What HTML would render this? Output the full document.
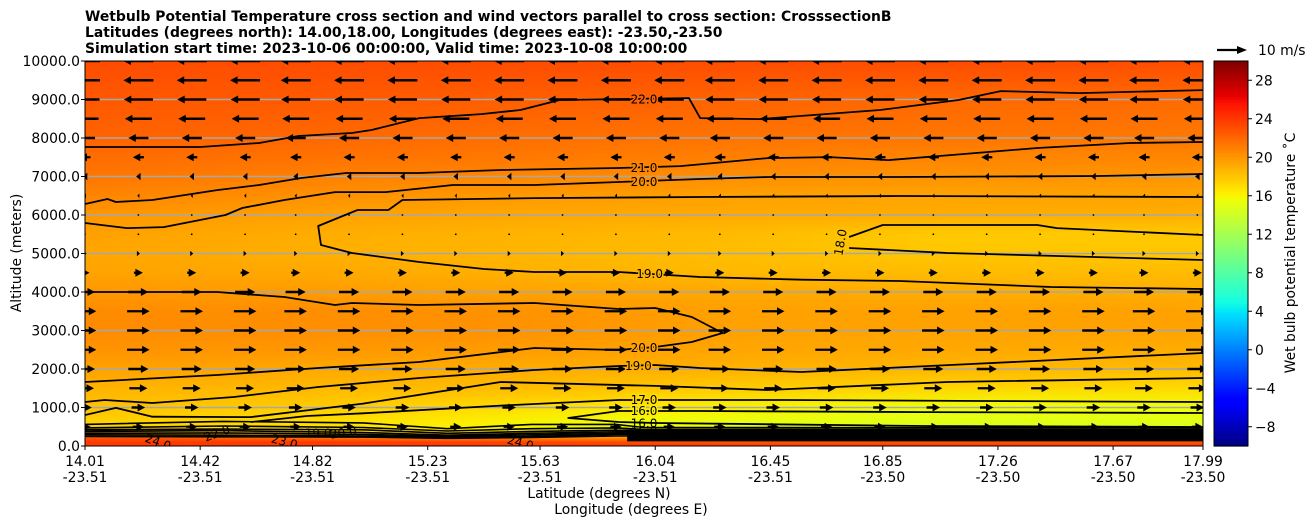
<!DOCTYPE html>
<html><head><meta charset="utf-8">
<style>
html,body{margin:0;padding:0;background:#fff;}
body{width:1311px;height:526px;overflow:hidden;font-family:"DejaVu Sans","Liberation Sans",sans-serif;}
svg text{font-family:"DejaVu Sans","Liberation Sans",sans-serif;}
</style></head>
<body>
<svg id="chart" width="1311" height="526" xmlns="http://www.w3.org/2000/svg">
<defs id="defs"><clipPath id="plotclip"><rect x="85" y="61" width="1118" height="385"/></clipPath></defs>
<g font-size="13.9" font-weight="bold" fill="#000">
<text x="85" y="21">Wetbulb Potential Temperature cross section and wind vectors parallel to cross section: CrosssectionB</text>
<text x="85" y="37">Latitudes (degrees north): 14.00,18.00, Longitudes (degrees east): -23.50,-23.50</text>
<text x="85" y="53">Simulation start time: 2023-10-06 00:00:00, Valid time: 2023-10-08 10:00:00</text>
</g>
<g id="field" clip-path="url(#plotclip)"></g>
<g id="grid"></g>
<g id="contours" clip-path="url(#plotclip)"></g>
<g id="arrows" clip-path="url(#plotclip)"></g>
<g id="clabels" clip-path="url(#plotclip)"></g>
<rect x="85" y="61" width="1118" height="385" fill="none" stroke="#000" stroke-width="1"/>
<g id="yaxis" font-size="13.9"></g>
<g id="xaxis" font-size="13.9"></g>
<text font-size="13.9" transform="translate(21,253) rotate(-90)" text-anchor="middle">Altitude (meters)</text>
<text font-size="13.9" x="599" y="498" text-anchor="middle">Latitude (degrees N)</text>
<text font-size="13.9" x="631" y="514" text-anchor="middle">Longitude (degrees E)</text>
<g id="cbar"></g>
<g>
<line x1="1217" y1="50" x2="1238" y2="50" stroke="#000" stroke-width="2.2"/>
<polygon points="1247,50 1237,46 1237,54" fill="#000"/>
<text x="1258" y="55" font-size="13.9">10 m/s</text>
</g>
<text font-size="13.9" transform="translate(1295,253) rotate(-90)" text-anchor="middle">Wet bulb potential temperature ˚C</text>
</svg>
<script>
// ---- data ----
const gridLats = [14.01, 14.8, 15.6, 16.3, 17.0, 17.99];
const gridAlts = [0,100,200,300,400,600,1000,1500,2000,2500,3000,3500,4000,4500,5000,5500,6000,6500,7000,7500,8000,9000,10000];
const gridTemps = [
 [24,24,24,24,24,24],
 [24,24,23.5,23,23,23],
 [23,22,21,20,20,20],
 [20,19,18,17,16.5,16.5],
 [17.5,17,16,15.5,15,15],
 [17.5,17,16,15.3,14.8,14.8],
 [18.2,17.8,17,16.2,15.6,15.6],
 [18.8,18.6,18.4,17.8,17.4,17.2],
 [19.6,19.3,19.1,18.9,18.7,18.5],
 [20.2,20.0,19.8,19.4,19.3,19.1],
 [20.5,20.4,20.2,19.6,19.5,19.5],
 [20.5,20.4,20.2,19.6,19.6,19.6],
 [20.0,19.8,19.5,19.3,19.1,19.0],
 [19.5,19.3,18.9,18.6,18.5,18.5],
 [19.4,19.0,18.7,18.4,18.0,18.0],
 [19.6,19.1,18.8,18.5,17.9,17.9],
 [20.0,19.6,19.3,19.2,19.1,19.0],
 [20.8,20.3,19.9,19.6,19.5,19.5],
 [21.4,21.0,20.7,20.4,20.2,20.1],
 [21.8,21.6,21.3,21.0,20.8,20.7],
 [22.2,22.0,21.7,21.5,21.4,21.3],
 [22.7,22.6,22.4,22.2,22.0,21.9],
 [23.2,23.2,23.2,23.2,23.2,23.2]
];
const windRowAlts = [10000,9500,9000,8500,8000,7500,7000,6500,6000,5500,5000,4500,4000,3500,3000,2500,2000,1500,1000,500];
const windRowU = [-10,-10,-9.7,-9,-6.7,-3.7,-1.5,-0.7,-0.3,0.3,1,3,6.7,7.5,7.5,7.5,6.7,6,4.5,3.7];
const windColLats = [14.01,14.20,14.39,14.58,14.76,14.95,15.14,15.33,15.52,15.71,15.90,16.09,16.27,16.46,16.65,16.84,17.03,17.22,17.41,17.60,17.78,17.97];
const contour22 = [[14.01,7765],[14.42,7765],[14.63,7869],[14.77,8051],[14.96,8129],[15.03,8207],[15.20,8518],[15.42,8622],[15.56,8726],[15.70,8986],[16.16,9037],[16.20,8518],[16.41,8492],[16.84,8726],[17.12,8986],[17.27,9219],[17.55,9167],[17.99,9245]];
const contour21 = [[14.01,6285],[14.09,6415],[14.12,6337],[14.25,6389],[14.48,6648],[14.63,6778],[14.78,6960],[14.94,7090],[15.20,7090],[15.49,7168],[15.91,7220],[16.13,7271],[16.44,7479],[16.66,7505],[16.87,7427],[17.09,7557],[17.40,7739],[17.73,7869],[17.99,7895]];
const contour20a = [[14.01,5791],[14.16,5661],[14.29,5687],[14.51,5999],[14.57,6181],[14.72,6389],[14.90,6596],[15.08,6596],[15.32,6778],[15.61,6778],[15.91,6856],[16.20,6934],[16.44,6986],[16.91,6986],[17.62,7012],[17.99,7064]];
const contour19a = [[17.99,6467],[16.91,6493],[16.20,6467],[15.61,6440],[15.14,6389],[15.09,6129],[14.98,6129],[14.84,5713],[14.85,5220],[14.96,5012],[15.20,4778],[15.43,4597],[15.61,4519],[15.91,4519],[16.20,4389],[16.56,4320],[16.91,4285],[17.45,4129],[17.99,4077]];
const contour18a = [[17.99,5480],[17.47,5661],[17.40,5739],[16.85,5739],[16.73,5428]];
const contour18b = [[16.73,5142],[17.08,5012],[17.99,4830]];
const contour20b = [[14.01,3999],[14.48,3999],[14.72,3869],[14.90,3662],[14.96,3714],[15.20,3662],[15.61,3714],[15.91,3558],[16.04,3584],[16.17,3350],[16.28,2935],[16.17,2701],[16.04,2571],[15.91,2493],[15.61,2545],[15.20,2181],[14.84,2026],[14.48,1844],[14.01,1662]];
const contour19b = [[14.01,1143],[14.08,1195],[14.25,1117],[14.54,1273],[14.84,1532],[15.20,1766],[15.61,1974],[15.91,2078],[16.04,2104],[16.20,2026],[16.56,1922],[17.09,2104],[17.99,2415]];
const contour185 = [[14.01,805],[14.12,990],[14.25,760],[14.60,750],[15.00,1100],[15.49,1662],[16.04,1560],[16.44,1454],[17.08,1662],[17.99,1766]];
const contour17 = [[14.60,620],[14.80,780],[15.00,850],[15.49,1050],[15.91,1195],[16.50,1195],[17.2,1170],[17.99,1143]];
const contour16a = [[17.99,857],[17.0,880],[16.20,909],[15.91,909],[15.73,727],[15.91,623],[16.04,597],[17.0,520],[17.99,493]];
const bottomLats = [14.01,14.5,15.0,15.3,15.6,15.9,16.0,17.99];
const bottomLines = [
 [560,640,600,450,560,560,480,470],
 [470,520,480,390,450,470,430,430],
 [420,440,420,330,380,410,400,400],
 [380,400,350,280,330,370,370,370],
 [330,340,300,250,290,330,340,340],
 [290,280,260,220,250,300,300,300],
 [250,240,230,200,220,260,260,260]
];
const contourLabels = [["22.0",16.0,9000,0],["21.0",16.0,7220,0],["20.0",16.0,6856,0],["19.0",16.02,4470,0],["18.0",16.70,5290,-80],
 ["20.0",16.0,2550,0],["19.0",15.98,2078,0],["17.0",16.0,1195,0],["16.0",16.0,909,0],["16.0",16.0,590,0],["16.0",16.0,390,0],["23.0",16.0,230,0],
 ["24.0",14.27,100,20],["22.0",14.48,330,-20],["23.0",14.72,110,15],["19.0",14.84,330,0],["20.0",14.93,350,-10],["24.0",15.56,80,15]];
const yTicks = [0,1000,2000,3000,4000,5000,6000,7000,8000,9000,10000];
const xTickLats = [14.01,14.42,14.82,15.23,15.63,16.04,16.45,16.85,17.26,17.67,17.99];
const xTickLons = ["-23.51","-23.51","-23.51","-23.51","-23.51","-23.51","-23.51","-23.50","-23.50","-23.50","-23.50"];
const cbarTicks = [-8,-4,0,4,8,12,16,20,24,28];

// ---- helpers ----
const NS = "http://www.w3.org/2000/svg";
const LAT0=14.01, LAT1=17.99, PX0=85, PW=1118, PY0=446, PH=385;
const X = lat => PX0 + (lat-LAT0)/(LAT1-LAT0)*PW;
const Y = alt => PY0 - alt/10000*PH;
const VMIN=-10, VMAX=30;
const CB_TOP=61, CB_BOT=446;
const CY = v => CB_BOT - (v-VMIN)/(VMAX-VMIN)*(CB_BOT-CB_TOP);
function seg(pts,f){ for(let i=0;i<pts.length-1;i++){ if(f<=pts[i+1][0]){ const t=(f-pts[i][0])/(pts[i+1][0]-pts[i][0]); return pts[i][1]+t*(pts[i+1][1]-pts[i][1]); } } return pts[pts.length-1][1]; }
function jet(v){ const f=Math.max(0,Math.min(1,(v-VMIN)/(VMAX-VMIN)));
 const r=seg([[0,0],[0.35,0],[0.66,1],[0.89,1],[1,0.5]],f);
 const g=seg([[0,0],[0.125,0],[0.375,1],[0.64,1],[0.91,0],[1,0]],f);
 const b=seg([[0,0.5],[0.11,1],[0.34,1],[0.65,0],[1,0]],f);
 return "rgb("+Math.round(r*255)+","+Math.round(g*255)+","+Math.round(b*255)+")"; }
function tempAt(lat, ri){ const row=gridTemps[ri]; for(let i=0;i<gridLats.length-1;i++){ if(lat<=gridLats[i+1]){ const t=(lat-gridLats[i])/(gridLats[i+1]-gridLats[i]); return row[i]+t*(row[i+1]-row[i]); } } return row[row.length-1]; }
function tempAtAlt(lat, alt){ for(let j=0;j<gridAlts.length-1;j++){ if(alt<=gridAlts[j+1]){ const t=(alt-gridAlts[j])/(gridAlts[j+1]-gridAlts[j]); return tempAt(lat,j)+t*(tempAt(lat,j+1)-tempAt(lat,j)); } } return tempAt(lat,gridAlts.length-1); }
function mk(tag, attrs, parent){ const e=document.createElementNS(NS,tag); for(const k in attrs) e.setAttribute(k,attrs[k]); parent.appendChild(e); return e; }

// ---- field ----
const defs=document.getElementById('defs'), field=document.getElementById('field');
for(let px=PX0; px<PX0+PW; px+=4){
 const lat=LAT0+(px+2-PX0)/PW*(LAT1-LAT0);
 const id='g'+px;
 const gr=mk('linearGradient',{id:id,x1:0,y1:0,x2:0,y2:1},defs);
 for(let j=gridAlts.length-1;j>=0;j--){ mk('stop',{offset:(10000-gridAlts[j])/10000,'stop-color':jet(tempAt(lat,j))},gr); }
 const r=mk('rect',{x:px,y:61,width:4.6,height:385,fill:'url(#'+id+')'},field);
 
 
}

// ---- grid ----
const grid=document.getElementById('grid');
yTicks.forEach(a=>{ if(a>0&&a<10000){ const l=mk('line',{x1:PX0,x2:PX0+PW,y1:Y(a),y2:Y(a),stroke:'#a8a8a8','stroke-width':1.5},grid);
 
  }});

// ---- contours ----
const cg=document.getElementById('contours');
function poly(pts,w){ const p=mk('polyline',{points:pts.map(q=>X(q[0]).toFixed(1)+','+Y(q[1]).toFixed(1)).join(' '),fill:'none',stroke:'#000','stroke-width':w||1.8,'stroke-linejoin':'round'},cg);
 
  return p; }
[contour22,contour21,contour20a,contour19a,contour18a,contour18b,contour20b,contour19b,contour185,contour17,contour16a].forEach(c=>poly(c));
const band=mk('polygon',{points:[[15.94,120],[17.99,120],[17.99,420],[15.94,420]].map(q=>X(q[0])+','+Y(q[1])).join(' '),fill:'#000'},cg);


bottomLines.forEach(row=>poly(bottomLats.map((la,i)=>[la,row[i]]),1.6));

// ---- wind arrows ----
const ag=document.getElementById('arrows');
windRowAlts.forEach((alt,ri)=>{
 const u=windRowU[ri];
 windColLats.forEach(lat=>{
  const cx=X(lat), cy=Y(alt);
  const L=Math.abs(u)*3.0, s=Math.sign(u)||1;
  let el;
  if(L<2){ el=mk('circle',{cx:cx,cy:cy,r:0.9,fill:'#000'},ag); }
  else {
   const hl=Math.min(L,7.5), hw=Math.min(4,1+L*0.6), sw=1.2;
   const x0=cx-s*L/2, x1=cx+s*L/2, xh=x1-s*hl;
   const pts=[[x0,cy-sw],[xh,cy-sw],[xh,cy-hw],[x1,cy],[xh,cy+hw],[xh,cy+sw],[x0,cy+sw]];
   el=mk('polygon',{points:pts.map(p=>p[0].toFixed(1)+','+p[1].toFixed(1)).join(' '),fill:'#000'},ag);
  }
  
  
 });
});

// ---- contour labels ----
const lg=document.getElementById('clabels');
contourLabels.forEach(c=>{
 const x=X(c[1]), y=Y(c[2]);
 const low=c[2]<700;
 const t=mk('text',{x:x,y:y+4,'text-anchor':'middle','font-size':12,fill:'#000',stroke:low?'none':jet(tempAtAlt(c[1],c[2])),'stroke-width':3,'paint-order':'stroke',transform:'rotate('+c[3]+' '+x+' '+y+')'},lg);
 t.textContent=c[0];
 
 
});

// ---- axes ----
const ya=document.getElementById('yaxis');
yTicks.forEach(a=>{ const y=Y(a);
 const tk=mk('line',{x1:81,x2:85,y1:y,y2:y,stroke:'#000'},ya);
 
 
 const t=mk('text',{x:80,y:y+5,'text-anchor':'end'},ya); t.textContent=a.toFixed(1);
 
  });
const xa=document.getElementById('xaxis');
xTickLats.forEach((lat,i)=>{ const x=X(lat);
 const tk=mk('line',{x1:x,x2:x,y1:446,y2:450,stroke:'#000'},xa);
 
 
 const t=mk('text',{x:x,y:466,'text-anchor':'middle'},xa); t.textContent=lat.toFixed(2);
 
 
 const t2=mk('text',{x:x,y:482,'text-anchor':'middle'},xa); t2.textContent=xTickLons[i];
 
  });

// ---- colorbar ----
const cb=document.getElementById('cbar');
for(let v=VMIN; v<VMAX; v+=0.25){ const r=mk('rect',{x:1214,y:CY(v+0.25),width:34,height:(CB_BOT-CB_TOP)/160+0.6,fill:jet(v+0.125)},cb);
 
  }
mk('rect',{x:1214,y:CB_TOP,width:34,height:CB_BOT-CB_TOP,fill:'none',stroke:'#000','stroke-width':1},cb);
cbarTicks.forEach(v=>{ const y=CY(v);
 const tk=mk('line',{x1:1248,x2:1252,y1:y,y2:y,stroke:'#000'},cb);
 
 
 const t=mk('text',{x:1255,y:y+5,'font-size':13.9},cb); t.textContent=(v<0?'\u2212'+(-v):String(v));
 
  });
</script>
</body></html>
